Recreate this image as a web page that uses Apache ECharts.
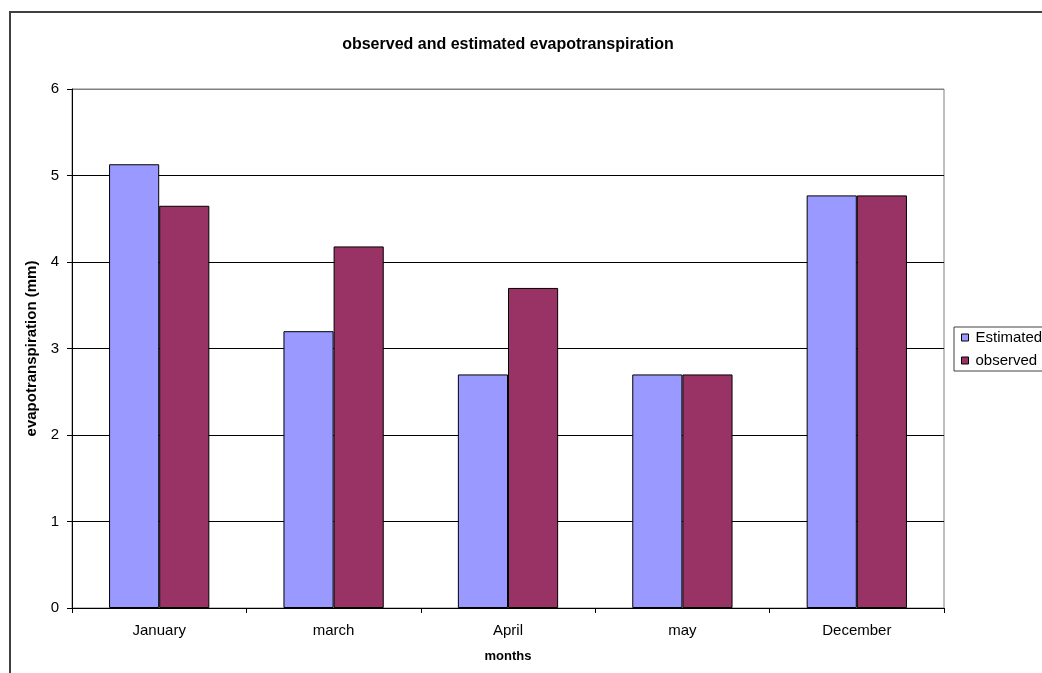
<!DOCTYPE html>
<html><head><meta charset="utf-8">
<script src="https://cdn.jsdelivr.net/npm/echarts@6/dist/echarts.min.js"></script>
<style>html,body{margin:0;padding:0;background:#fff}#c{width:1042px;height:673px}</style>
</head><body><div id="c"></div>
<script>
const categories = ['January', 'march', 'April', 'may', 'December'];
const estimated = [5.13, 3.20, 2.70, 2.70, 4.77];
const observed = [4.65, 4.18, 3.70, 2.70, 4.77];
const yTicks = [0, 1, 2, 3, 4, 5, 6];

const FONT = '"Liberation Sans", Arial, sans-serif';
const chart = echarts.init(document.getElementById('c'), null, {renderer: 'canvas'});
chart.setOption({
  animation: false,
  backgroundColor: '#fff',
  textStyle: {fontFamily: FONT},
  title: {
    text: 'observed and estimated evapotranspiration',
    left: 503, top: 32, textAlign: 'center',
    textStyle: {fontFamily: FONT, fontSize: 16, fontWeight: 'bold', color: '#000'}
  },
  graphic: [{
    type: 'rect', z: -1, silent: true,
    shape: {x: 10, y: 12, width: 1200, height: 800},
    style: {fill: 'none', stroke: '#404040', lineWidth: 2}
  }],
  legend: {
    orient: 'vertical', left: 954, top: 327,
    padding: [3, 40, 3, 7],
    itemGap: 8, itemWidth: 7, itemHeight: 7,
    borderColor: '#404040', borderWidth: 1, borderRadius: 0,
    icon: 'rect',
    textStyle: {fontFamily: FONT, fontSize: 15, color: '#000', padding: [0, 0, 0, 2]},
    data: [
      {name: 'Estimated', itemStyle: {borderColor: '#000', borderWidth: 1}},
      {name: 'observed', itemStyle: {borderColor: '#000', borderWidth: 1}}
    ]
  },
  grid: {
    left: 72, top: 89, right: 98, bottom: 65,
    show: true, borderColor: '#808080', borderWidth: 1, backgroundColor: '#fff',
    containLabel: false
  },
  xAxis: {
    type: 'category', data: categories,
    name: 'months', nameLocation: 'middle', nameGap: 42,
    nameTextStyle: {fontFamily: FONT, fontSize: 13, fontWeight: 'bold', color: '#000'},
    axisLine: {lineStyle: {color: '#000', width: 1}},
    axisTick: {show: true, length: 5, lineStyle: {color: '#000'}},
    axisLabel: {fontFamily: FONT, fontSize: 15, color: '#000', margin: 15}
  },
  yAxis: {
    type: 'value', min: yTicks[0], max: yTicks[yTicks.length - 1], interval: 1,
    name: 'evapotranspiration (mm)', nameLocation: 'middle', nameGap: 25,
    nameTextStyle: {fontFamily: FONT, fontSize: 15, fontWeight: 'bold', color: '#000'},
    axisLine: {show: true, lineStyle: {color: '#000', width: 1}},
    axisTick: {show: true, length: 5, lineStyle: {color: '#000'}},
    axisLabel: {fontFamily: FONT, fontSize: 15, color: '#000', margin: 13},
    splitLine: {show: true, lineStyle: {color: ['#000', '#000', '#000', '#000', '#000', '#000', '#808080'], width: 1}}
  },
  series: [
    {name: 'Estimated', type: 'bar', data: estimated, barGap: '0%', barCategoryGap: '42.5%',
     itemStyle: {color: '#9999FF', borderColor: '#000', borderWidth: 1}},
    {name: 'observed', type: 'bar', data: observed, barGap: '0%', barCategoryGap: '42.5%',
     itemStyle: {color: '#993366', borderColor: '#000', borderWidth: 1}}
  ]
});
</script></body></html>
